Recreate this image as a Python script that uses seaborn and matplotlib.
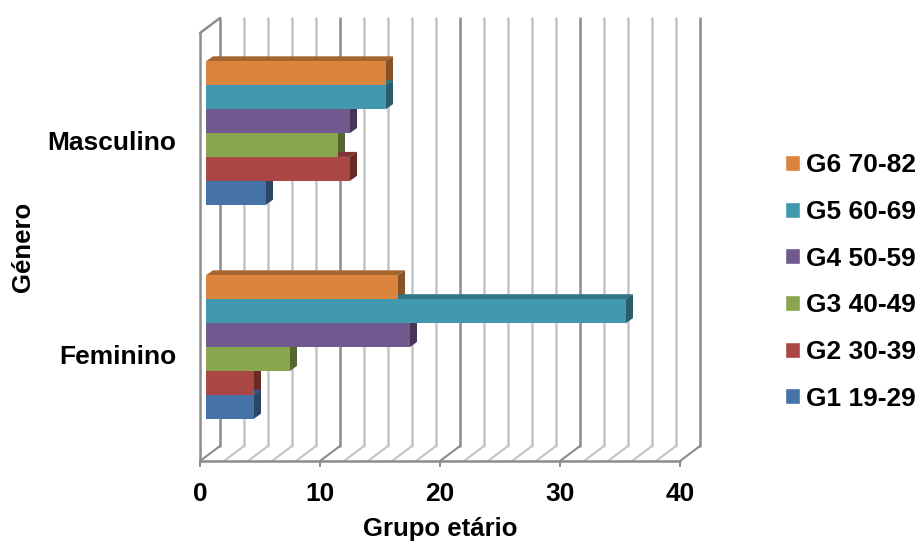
import matplotlib
matplotlib.use("Agg")
import numpy as np
import pandas as pd
import matplotlib.pyplot as plt
import seaborn as sns
from matplotlib.patches import Polygon
from matplotlib.colors import to_rgb

# ---- Data ----
generos = ["Masculino", "Feminino"]
grupos = ["G6 70-82", "G5 60-69", "G4 50-59", "G3 40-49", "G2 30-39", "G1 19-29"]
masculino = [15, 15, 12, 11, 12, 5]
feminino = [16, 35, 17, 7, 4, 4]
cores = ["#DB843D", "#4198AF", "#71588F", "#89A54E", "#AA4643", "#4572A7"]
x_ticks = [0, 10, 20, 30, 40]

df = pd.DataFrame({
    "genero": np.repeat(generos, len(grupos)),
    "grupo": grupos * len(generos),
    "valor": masculino + feminino,
})

# ---- Style ----
sns.set_theme(style="white")
plt.rcParams["font.family"] = ["Liberation Sans", "DejaVu Sans"]
plt.rcParams["font.weight"] = "bold"
plt.rcParams["text.color"] = "black"
plt.rcParams["axes.labelcolor"] = "black"
plt.rcParams["xtick.labelcolor"] = "black"
plt.rcParams["ytick.labelcolor"] = "black"

fig = plt.figure(figsize=(9.21, 5.46), dpi=100)
ax = fig.add_axes([200 / 921, 85 / 546, 480 / 921, 428 / 546])

sns.barplot(data=df, y="genero", x="valor", hue="grupo", hue_order=grupos,
            order=generos, palette=cores, orient="h", width=0.67,
            saturation=1, ax=ax, zorder=3)

ax.set_xlim(0, 40)
ax.set_ylim(1.5, -0.5)

# pixel -> data conversion (fixed axes, fixed dpi)
p0 = ax.transData.transform((0, 0))
p1 = ax.transData.transform((1, 1))
px_x = 1.0 / abs(p1[0] - p0[0])
px_y = 1.0 / abs(p1[1] - p0[1])

wall_dx, wall_dy = 20 * px_x, 15 * px_y      # back wall offset
bar_dx, bar_dy = 6 * px_x, 7 * px_y          # bars sit inside the box
depth_dx, depth_dy = 7 * px_x, 5 * px_y      # bar thickness

y_top, y_bot = -0.5, 1.5
minor = "#C4C4C4"
major = "#8C8C8C"

# ---- 3D walls: back gridlines + floor ----
for v in range(0, 41, 2):
    c = major if v % 10 == 0 else minor
    ax.plot([v + wall_dx, v + wall_dx], [y_top - wall_dy, y_bot - wall_dy],
            color=c, lw=1.8, zorder=0.5, clip_on=False)
    ax.plot([v, v + wall_dx], [y_bot, y_bot - wall_dy],
            color=c, lw=1.5, zorder=0.5, clip_on=False)
ax.plot([0, 40], [y_bot, y_bot], color=major, lw=1.8, zorder=0.6, clip_on=False)
ax.plot([0, 0], [y_top, y_bot], color=major, lw=1.8, zorder=0.6, clip_on=False)
ax.plot([0, wall_dx], [y_top, y_top - wall_dy], color=major, lw=1.8,
        zorder=0.6, clip_on=False)

# ---- 3D bars: shift fronts, add top + side faces ----
for patch in ax.patches:
    if patch.get_width() == 0:
        continue
    patch.set_x(patch.get_x() + bar_dx)
    patch.set_y(patch.get_y() - bar_dy)
    patch.set_linewidth(0)
    x0 = patch.get_x()
    x1 = x0 + patch.get_width()
    ya = patch.get_y()
    yb = ya + patch.get_height()
    rgb = np.array(to_rgb(patch.get_facecolor()))
    top = Polygon([(x0, ya), (x0 + depth_dx, ya - depth_dy),
                   (x1 + depth_dx, ya - depth_dy), (x1, ya)],
                  closed=True, facecolor=rgb * 0.76, edgecolor="none",
                  zorder=2, clip_on=False)
    side = Polygon([(x1, ya), (x1 + depth_dx, ya - depth_dy),
                    (x1 + depth_dx, yb - depth_dy), (x1, yb)],
                   closed=True, facecolor=rgb * 0.62, edgecolor="none",
                   zorder=2, clip_on=False)
    ax.add_patch(top)
    ax.add_patch(side)

# ---- Axes text ----
sns.despine(ax=ax, left=True, bottom=True, top=True, right=True)
ax.set_xticks(x_ticks)
ax.tick_params(axis="x", bottom=True, length=4, width=1.4, color=major,
               pad=11, labelsize=19)
ax.tick_params(axis="y", left=False, length=0, pad=17, labelsize=19)
for lbl in ax.get_xticklabels() + ax.get_yticklabels():
    lbl.set_fontweight("bold")

ax.set_xlabel("Grupo etário", fontsize=18.5, fontweight="bold")
ax.set_ylabel("Género", fontsize=18.5, fontweight="bold")
ax.xaxis.label.set_va("center")
ax.yaxis.label.set_va("center")
ax.xaxis.set_label_coords(0.5, (546 - 529 - 85) / 428)
ax.yaxis.set_label_coords(-(200 - 23) / 480, (546 - 247 - 85) / 428)

sns.move_legend(ax, "center left", bbox_to_anchor=(785 / 921, 1 - 282 / 546),
                bbox_transform=fig.transFigure, frameon=False, title=None,
                prop={"weight": "bold", "size": 19}, handlelength=0.55,
                handleheight=0.55, handletextpad=0.25, labelspacing=0.86,
                borderpad=0, borderaxespad=0)

fig.savefig("out.png", dpi=100)
